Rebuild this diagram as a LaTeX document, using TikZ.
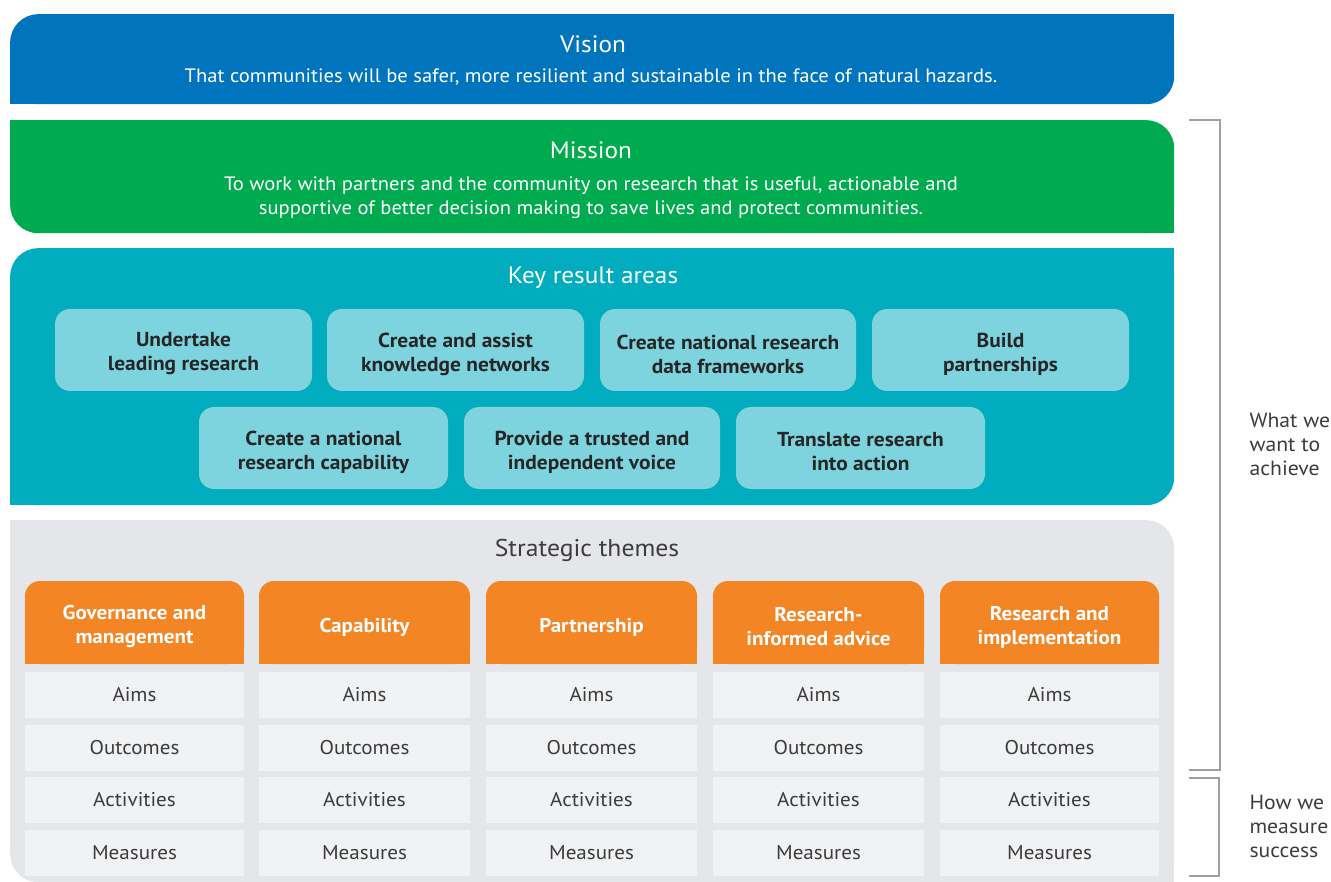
\documentclass[tikz,border=0pt]{standalone}
\usepackage{fontspec}
\setmainfont{PT Sans}[FakeStretch=1.06]
\definecolor{vblue}{HTML}{0074BD}
\definecolor{mgreen}{HTML}{00AA4F}
\definecolor{kteal}{HTML}{00ACBD}
\definecolor{lteal}{HTML}{7DD4DE}
\definecolor{sgray}{HTML}{E5E6EA}
\definecolor{cellc}{HTML}{F1F2F4}
\definecolor{orng}{HTML}{F48524}
\definecolor{dtext}{HTML}{262626}
\definecolor{brk}{HTML}{A0A0A0}
\tikzset{
  band/.style={anchor=north west, inner sep=0pt, draw=none},
  title/.style={text=white, font=\fontsize{23.8}{28}\selectfont},
  sub/.style={text=white, align=center, font=\fontsize{19.4}{24}\selectfont},
  krabox/.style={fill=lteal, rounded corners=15pt, minimum height=82pt, inner sep=0pt},
  kratext/.style={align=center, text=dtext, font=\bfseries\fontsize{20.2}{24}\selectfont},
  hdr/.style={fill=orng, rounded corners=15pt, minimum height=83pt, inner sep=0pt},
  hdrtext/.style={align=center, text=white, font=\bfseries\fontsize{19.9}{24}\selectfont},
  cell/.style={fill=cellc, minimum height=46pt, inner sep=0pt, text=dtext!90,
     font=\fontsize{19.9}{24}\selectfont},
  bracket/.style={draw=brk, line width=1.3pt},
  side/.style={anchor=west, align=left, text=dtext!90, font=\fontsize{20.5}{24}\selectfont}
}
\begin{document}
\begin{tikzpicture}[x=1pt,y=-1pt]
\useasboundingbox (0,0) rectangle (1331,882);
% Vision
\node[band, fill=vblue, rounded corners=28pt, minimum width=1164pt, minimum height=90pt] (vision) at (10,14) {};
\fill[vblue] (1144,14) rectangle (1174,44);
\fill[vblue] (10,74) rectangle (40,104);
\node[title] (visiont) at (593,44) {Vision};
\node[sub] (visions) at (591,77) {That communities will be safer, more resilient and sustainable in the face of natural hazards.};
% Mission
\node[band, fill=mgreen, rounded corners=28pt, minimum width=1164pt, minimum height=113pt] (mission) at (10,120) {};
\fill[mgreen] (10,120) rectangle (40,150);
\fill[mgreen] (1144,203) rectangle (1174,233);
\node[title] (missiont) at (591,150) {Mission};
\node[sub] (missions) at (591,197.5) {To work with partners and the community on research that is useful, actionable and\\supportive of better decision making to save lives and protect communities.};
% Key result areas
\node[band, fill=kteal, rounded corners=28pt, minimum width=1164pt, minimum height=257pt] (kra) at (10,248) {};
\fill[kteal] (1144,248) rectangle (1174,278);
\fill[kteal] (10,475) rectangle (40,505);
\node[title] (krat) at (593,278) {Key result areas};
\foreach \n/\cx/\cy/\w/\lab in {
  1/183.5/350/257/{Undertake\\leading research},
  2/455.5/350/257/{Create and assist\\knowledge networks},
  3/728/350/256/{Create national research\\data frameworks},
  4/1000.5/350/257/{Build\\partnerships},
  5/323.5/448/249/{Create a national\\research capability},
  6/592/448/256/{Provide a trusted and\\independent voice},
  7/860.5/448/249/{Translate research\\into action}}{
  \node[krabox, minimum width=\w pt] (k\n) at (\cx,\cy) {};
  \node[kratext] (kt\n) at (\cx,\cy+4) {\lab};
}
% Strategic themes
\node[band, fill=sgray, rounded corners=28pt, minimum width=1164pt, minimum height=362pt] (st) at (10,520) {};
\fill[sgray] (10,520) rectangle (40,550);
\fill[sgray] (1134,842) rectangle (1174,882);
\node[text=dtext!90, font=\fontsize{24.2}{28}\selectfont] (stt) at (587,550) {Strategic themes};
\foreach \i/\xl/\w/\lab in {1/25/219/{Governance and\\management}, 2/259/211/{Capability}, 3/486/211/{Partnership}, 4/713/211/{Research-\\informed advice}, 5/940/219/{Research and\\implementation}}{
  \node[hdr, minimum width=\w pt] (h\i) at ({\xl+\w/2},622.5) {};
  \fill[orng] (\xl,640) rectangle ({\xl+\w},664);
  \node[hdrtext] (ht\i) at ({\xl+\w/2},627) {\lab};
  \node[cell, minimum width=\w pt] (aims\i) at ({\xl+\w/2},695) {Aims};
  \node[cell, minimum width=\w pt] (out\i) at ({\xl+\w/2},748) {Outcomes};
  \node[cell, minimum width=\w pt] (act\i) at ({\xl+\w/2},800) {Activities};
  \node[cell, minimum width=\w pt] (mea\i) at ({\xl+\w/2},853) {Measures};
}
% Brackets
\coordinate (b1a) at (1189,120);
\coordinate (b1b) at (1220,120);
\coordinate (b1c) at (1220,770);
\coordinate (b1d) at (1189,770);
\draw[bracket] (b1a) -- (b1b) -- (b1c) -- (b1d);
\coordinate (b2a) at (1189,778);
\coordinate (b2b) at (1219,778);
\coordinate (b2c) at (1219,876);
\coordinate (b2d) at (1189,876);
\draw[bracket] (b2a) -- (b2b) -- (b2c) -- (b2d);
\node[side] (want) at (1246,444) {What we\\want to\\achieve};
\node[side] (meas) at (1246,826) {How we\\measure\\success};
\end{tikzpicture}
\end{document}
